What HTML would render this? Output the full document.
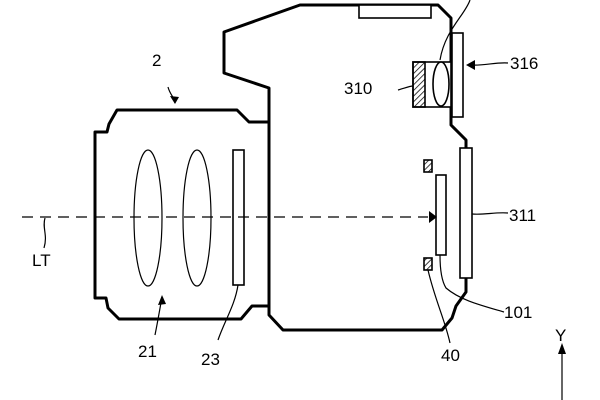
<!DOCTYPE html>
<html><head><style>html,body{margin:0;padding:0;background:#fff}svg{display:block}</style></head>
<body>
<svg width="600" height="400" viewBox="0 0 600 400" xmlns="http://www.w3.org/2000/svg">
<defs><pattern id="h" width="4" height="4" patternUnits="userSpaceOnUse" patternTransform="rotate(45)"><line x1="0" y1="0" x2="0" y2="4" stroke="#000" stroke-width="1.5"/></pattern></defs>
<g fill="none" stroke="#000" stroke-width="3" stroke-linejoin="round">
<path d="M269,122 L249,122 L237,110 L117,110 L109,124 L107,132 L95,132 L95,298 L106,298 L108,308 L119,319 L241,319 L252,306 L269,306"/>
<path d="M269,306 L269,88 L224,73 L224,32 L300,5 L438,5 L451,18 L451,125 L466,140 L466,148"/>
<path d="M269,306 L269,315 L283,330 L442,330 L452,318 L456,306 L466,292 L466,278"/>
</g>
<g fill="#fff" stroke="#000" stroke-width="1.6">
<rect x="359" y="5" width="72" height="13"/>
<rect x="452" y="33" width="11" height="84"/>
<rect x="413" y="62" width="38" height="45"/>
<rect x="413" y="62" width="12" height="45" fill="url(#h)"/>
<ellipse cx="441" cy="84" rx="8" ry="22"/>
<rect x="233" y="150" width="11" height="135"/>
<rect x="460" y="148" width="12" height="130"/>
<rect x="436" y="175" width="10" height="80"/>
<rect x="424" y="160" width="8" height="12" fill="url(#h)"/>
<rect x="424" y="258" width="8" height="12" fill="url(#h)"/>
</g>
<g fill="none" stroke="#000" stroke-width="1.2">
<ellipse cx="148" cy="218" rx="14" ry="68"/>
<ellipse cx="197" cy="218" rx="14" ry="68"/>
<line x1="22" y1="217" x2="428" y2="217" stroke-dasharray="11,7"/>
<path d="M45,218 C42,228 48,235 44,248"/>
<path d="M168,87 C170,95 175,98 175,103"/>
<path d="M155,335 C158,320 160,308 162,297"/>
<path d="M218,340 C225,320 235,305 238,285"/>
<path d="M398,90 C405,88 410,86 413,86"/>
<path d="M508,63 C495,62 485,66 470,65"/>
<path d="M508,213 C495,212 485,215 472,214"/>
<path d="M504,312 C480,305 460,300 446,288 C441,280 440,265 440,255"/>
<path d="M450,343 C445,320 435,300 428,270"/>
<path d="M470,0 C465,15 445,30 440,60"/>
<line x1="562" y1="400" x2="562" y2="350"/>
</g>
<g fill="#000">
<polygon points="429,211 437,217 429,223"/>
<polygon points="175,104 170,96 179,97"/>
<polygon points="162,295 158,305 166,304"/>
<polygon points="466,65 475,60 475,70"/>
<polygon points="562,343 558,354 566,354"/>
</g>
<g font-family="Liberation Sans, sans-serif" font-size="17" fill="#000">
<text x="152" y="66">2</text>
<text x="344" y="94">310</text>
<text x="510" y="69">316</text>
<text x="509" y="221">311</text>
<text x="504" y="318">101</text>
<text x="441" y="361">40</text>
<text x="138" y="357">21</text>
<text x="201" y="365">23</text>
<text x="32" y="266">LT</text>
<text x="555" y="341">Y</text>
</g>
</svg>
</body></html>
